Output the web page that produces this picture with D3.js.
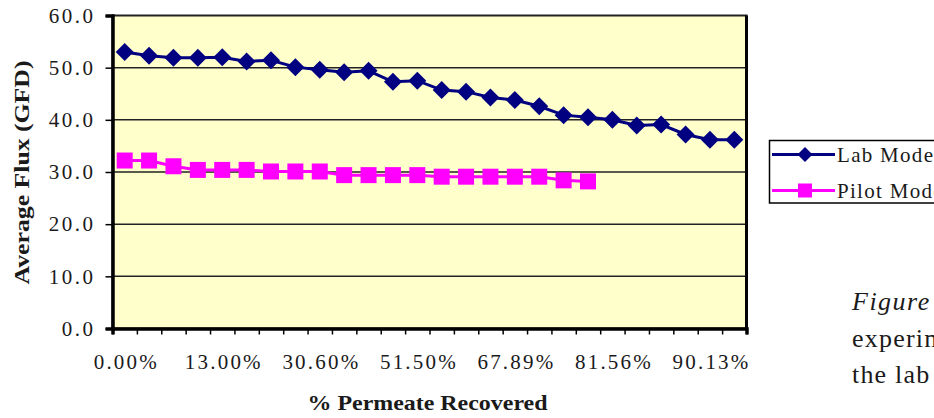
<!DOCTYPE html>
<html><head><meta charset="utf-8">
<script src="https://cdn.jsdelivr.net/npm/d3@7/dist/d3.min.js"></script>
<style>
html,body{margin:0;padding:0;background:#fff;overflow:hidden;}
svg{display:block;font-family:"Liberation Serif","Times New Roman",serif;}
</style></head>
<body>
<svg id="c" width="934" height="418"></svg>
<script>
// ---- data ----
const categoryCount = 26; // category indices 0..25
const tickLabels = ["0.00%", "13.00%", "30.60%", "51.50%", "67.89%", "81.56%", "90.13%"];
const tickLabelInterval = 4;
const labModel = [53.0, 52.3, 51.9, 51.9, 52.0, 51.2, 51.4, 50.1, 49.6, 49.1, 49.4, 47.3, 47.5,
                  45.7, 45.4, 44.3, 43.8, 42.6, 40.9, 40.5, 40.0, 38.9, 39.1, 37.2, 36.2, 36.2];
const pilotModel = [32.2, 32.2, 31.1, 30.4, 30.4, 30.4, 30.1, 30.1, 30.1, 29.4, 29.4, 29.4, 29.4,
                    29.1, 29.1, 29.1, 29.1, 29.1, 28.4, 28.2];
const yTicks = [0, 10, 20, 30, 40, 50, 60];
const seriesNames = ["Lab Model", "Pilot Model"];
const captionLines = ["Figure", "experiments", "the lab"];

// ---- layout ----
const svg = d3.select("#c");
const L = 112.5, R = 746.5, T = 15.5, B = 328.5;
const idx = d3.range(categoryCount);
const x = d3.scalePoint().domain(idx).range([L, R]).padding(0.5);
const xb = d3.scaleLinear().domain([0, categoryCount]).range([L, R]);
const y = d3.scaleLinear().domain([0, 60]).range([B, T]);
const ink = "#1a1a1a";

// plot area
svg.append("rect").attr("x", L).attr("y", T).attr("width", R - L).attr("height", B - T)
  .attr("fill", "#FFFFCC").attr("stroke", "#222").attr("stroke-width", 2);

// gridlines
svg.append("g").selectAll("line").data(yTicks.filter(v => v > 0 && v < 60)).join("line")
  .attr("x1", L).attr("x2", R).attr("y1", d => y(d)).attr("y2", d => y(d))
  .attr("stroke", "#222").attr("stroke-width", 1.5);

// right frame edge thicker
svg.append("line").attr("x1", R).attr("x2", R).attr("y1", T).attr("y2", B + 1)
  .attr("stroke", "#000").attr("stroke-width", 3);

// y axis
const ya = svg.append("g").attr("transform", `translate(${L},0)`)
  .call(d3.axisLeft(y).tickValues(yTicks).tickFormat(d3.format(".1f")).tickSize(7).tickPadding(10));
ya.select(".domain").attr("stroke", "#000").attr("stroke-width", 3.5);
ya.selectAll(".tick line").attr("stroke", "#000").attr("stroke-width", 1.5);
ya.selectAll("text").attr("font-size", 21).attr("fill", ink).attr("letter-spacing", "2.5px")
  .attr("font-family", "Liberation Serif");

// x axis: boundary ticks
const xt = svg.append("g").attr("transform", `translate(0,${B})`)
  .call(d3.axisBottom(xb).tickValues(d3.range(categoryCount + 1)).tickFormat("").tickSize(6));
xt.select(".domain").attr("stroke", "#000").attr("stroke-width", 3.5);
xt.selectAll(".tick line").attr("stroke", "#000").attr("stroke-width", 1.5);

// x axis labels
const labelIdx = idx.filter(i => i % tickLabelInterval === 0);
const xl = svg.append("g").attr("transform", `translate(0,${B})`)
  .call(d3.axisBottom(x).tickValues(labelIdx)
    .tickFormat(i => tickLabels[i / tickLabelInterval]).tickSize(0).tickPadding(0));
xl.select(".domain").remove();
xl.selectAll("text").attr("font-size", 21).attr("fill", ink).attr("letter-spacing", "2.2px")
  .attr("font-family", "Liberation Serif").attr("y", 40).attr("dy", "0").attr("dx", "1.1px");

// axis titles
svg.append("text").attr("x", 427.5).attr("y", 410).attr("text-anchor", "middle")
  .attr("font-size", 21).attr("font-weight", "bold").attr("fill", ink)
  .attr("textLength", 240).attr("lengthAdjust", "spacingAndGlyphs")
  .text("% Permeate Recovered");
svg.append("text").attr("transform", "translate(29,172.5) rotate(-90)").attr("text-anchor", "middle")
  .attr("font-size", 20).attr("font-weight", "bold").attr("fill", ink)
  .attr("textLength", 224).attr("lengthAdjust", "spacingAndGlyphs")
  .text("Average Flux (GFD)");

// series
const line = d3.line().x((d, i) => x(i)).y(d => y(d));
const diamond = s => `M0,${-s}L${s},0L0,${s}L${-s},0Z`;
svg.append("path").datum(labModel).attr("d", line).attr("fill", "none")
  .attr("stroke", "#000080").attr("stroke-width", 3);
svg.append("path").datum(pilotModel).attr("d", line).attr("fill", "none")
  .attr("stroke", "#FF00FF").attr("stroke-width", 3);
svg.append("g").selectAll("path").data(labModel).join("path")
  .attr("transform", (d, i) => `translate(${x(i)},${y(d)})`).attr("d", diamond(9))
  .attr("fill", "#000080");
svg.append("g").selectAll("rect").data(pilotModel).join("rect")
  .attr("x", (d, i) => x(i) - 8).attr("y", d => y(d) - 8).attr("width", 16).attr("height", 16)
  .attr("fill", "#FF00FF");

// legend
const lg = svg.append("g");
lg.append("rect").attr("x", 769.5).attr("y", 140.5).attr("width", 180).attr("height", 62.5)
  .attr("fill", "#fff").attr("stroke", "#000").attr("stroke-width", 1.5);
const legendRows = [
  {name: seriesNames[0], color: "#000080", shape: "diamond", ly: 154.5, ty: 162},
  {name: seriesNames[1], color: "#FF00FF", shape: "square", ly: 190.5, ty: 198}
];
legendRows.forEach(r => {
  lg.append("line").attr("x1", 772).attr("x2", 835).attr("y1", r.ly).attr("y2", r.ly)
    .attr("stroke", r.color).attr("stroke-width", 3);
  if (r.shape === "diamond") {
    lg.append("path").attr("transform", `translate(805,${r.ly})`).attr("d", diamond(7.5)).attr("fill", r.color);
  } else {
    lg.append("rect").attr("x", 798).attr("y", r.ly - 7).attr("width", 14).attr("height", 14).attr("fill", r.color);
  }
  lg.append("text").attr("x", 837).attr("y", r.ty).attr("font-size", 21).attr("letter-spacing", "1.3px")
    .attr("fill", ink).text(r.name);
});

// caption fragment
captionLines.forEach((t, i) => {
  svg.append("text").attr("x", 852).attr("y", 310 + i * 36.5).attr("font-size", 26)
    .attr("font-style", i === 0 ? "italic" : "normal").attr("letter-spacing", i === 0 ? "1.5px" : "1.2px")
    .attr("fill", ink).text(t);
});
</script>
</body></html>
